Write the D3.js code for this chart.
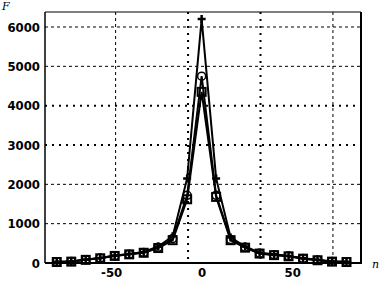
<!DOCTYPE html>
<html>
<head>
<meta charset="utf-8">
<script src="https://cdn.jsdelivr.net/npm/d3@7"></script>
<style>
  body { margin: 0; background: #fff; }
  svg { display: block; }
  .tick text { font-family: "DejaVu Sans", sans-serif; font-stretch: condensed; font-size: 13px; font-weight: bold; fill: #000; }
</style>
</head>
<body>
<div id="chart"></div>
<script>
// sample index n
var nValues = [-80, -72, -64, -56, -48, -40, -32, -24, -16, -8, 0, 8, 16, 24, 32, 40, 48, 56, 64, 72, 80];

// three curves
var plusSeries   = [30, 40, 90, 130, 190, 230, 280, 420, 680, 2150, 6200, 2150, 650, 420, 260, 220, 180, 120, 80, 40, 30];
var circleSeries = [30, 40, 85, 125, 185, 225, 270, 400, 620, 1720, 4750, 1720, 600, 400, 250, 210, 175, 115, 75, 40, 30];
var squareSeries = [25, 35, 80, 120, 180, 220, 260, 380, 580, 1620, 4350, 1680, 580, 390, 240, 200, 170, 110, 70, 35, 25];

// ticks and grid
var xTicks = [-50, 0, 50];
var yTicks = [0, 1000, 2000, 3000, 4000, 5000, 6000];
var gridX = [-47.5, -7.5, 32.5, 72.5];
var gridY = [1000, 2000, 3000, 4000, 5000, 6000];
var boldGridX = [-7.5, 32.5];
var boldGridY = [3000, 4000];

var margin = {top: 12, right: 20, bottom: 18, left: 45},
  width = 381 - margin.left - margin.right,
  height = 281 - margin.top - margin.bottom;

var svg = d3.select("#chart").append("svg")
  .attr("width", 381)
  .attr("height", 281);

var g = svg.append("g")
  .attr("transform", "translate(" + margin.left + "," + margin.top + ")");

var x = d3.scaleLinear().domain([-86.5, 88]).range([0, width]);
var y = d3.scaleLinear().domain([0, 6381]).range([height, 0]);

// grid lines
g.selectAll("line.gx")
  .data(gridX)
  .enter().append("line")
    .attr("class", "gx")
    .attr("x1", d => x(d)).attr("x2", d => x(d))
    .attr("y1", 0).attr("y2", height)
    .attr("stroke", "#000")
    .attr("stroke-width", d => boldGridX.indexOf(d) >= 0 ? 2 : 1)
    .attr("stroke-dasharray", d => boldGridX.indexOf(d) >= 0 ? "2,5" : "3,3");

g.selectAll("line.gy")
  .data(gridY)
  .enter().append("line")
    .attr("class", "gy")
    .attr("x1", 0).attr("x2", width)
    .attr("y1", d => y(d)).attr("y2", d => y(d))
    .attr("stroke", "#000")
    .attr("stroke-width", d => boldGridY.indexOf(d) >= 0 ? 2 : 1)
    .attr("stroke-dasharray", d => boldGridY.indexOf(d) >= 0 ? "2,5" : "3,3");

// frame
g.append("line").attr("x1", 0).attr("x2", width).attr("y1", 0).attr("y2", 0).attr("stroke", "#000").attr("stroke-width", 1);
g.append("line").attr("x1", width).attr("x2", width).attr("y1", 0).attr("y2", height).attr("stroke", "#000").attr("stroke-width", 2);
g.append("line").attr("x1", 0).attr("x2", 0).attr("y1", 0).attr("y2", height).attr("stroke", "#000").attr("stroke-width", 1.5);
g.append("line").attr("x1", 0).attr("x2", width + 1).attr("y1", height).attr("y2", height).attr("stroke", "#000").attr("stroke-width", 2);

// axes (plain hyphen for negatives, like the original)
var xAxis = d3.axisBottom(x).tickValues(xTicks).tickSize(0).tickPadding(5).tickFormat(d => String(d));
var yAxis = d3.axisLeft(y).tickValues(yTicks).tickSize(0).tickPadding(5).tickFormat(d => String(d));

g.append("g")
  .attr("transform", "translate(0," + height + ")")
  .call(xAxis)
  .call(s => s.select(".domain").remove());

g.append("g")
  .call(yAxis)
  .call(s => s.select(".domain").remove());

// axis labels
svg.append("text")
  .attr("x", 2).attr("y", 10)
  .attr("font-family", "DejaVu Serif, serif")
  .attr("font-style", "italic")
  .attr("font-size", 11)
  .text("F");
svg.append("text")
  .attr("x", 372).attr("y", 268)
  .attr("font-family", "DejaVu Serif, serif")
  .attr("font-style", "italic")
  .attr("font-size", 11)
  .text("n");

var line = d3.line()
  .x(d => x(d[0]))
  .y(d => y(d[1]));

function addSeries(values, marker) {
  var pts = nValues.map((n, i) => [n, values[i]]);
  var grp = g.append("g");
  grp.append("path")
    .datum(pts)
    .attr("fill", "none")
    .attr("stroke", "#000")
    .attr("stroke-width", 2)
    .attr("d", line);

  var m = grp.selectAll("g.m")
    .data(pts)
    .enter().append("g")
      .attr("transform", d => "translate(" + x(d[0]) + "," + y(d[1]) + ")");

  if (marker === "square") {
    m.append("rect").attr("x", -4).attr("y", -4).attr("width", 8).attr("height", 8)
      .attr("fill", "none").attr("stroke", "#000").attr("stroke-width", 2);
  } else if (marker === "circle") {
    m.append("circle").attr("r", 4)
      .attr("fill", "none").attr("stroke", "#000").attr("stroke-width", 1.5);
  } else {
    m.append("path").attr("d", "M-4,0H4M0,-4V4")
      .attr("stroke", "#000").attr("stroke-width", 2.5);
  }
}

addSeries(squareSeries, "square");
addSeries(circleSeries, "circle");
addSeries(plusSeries, "plus");
</script>
</body>
</html>
